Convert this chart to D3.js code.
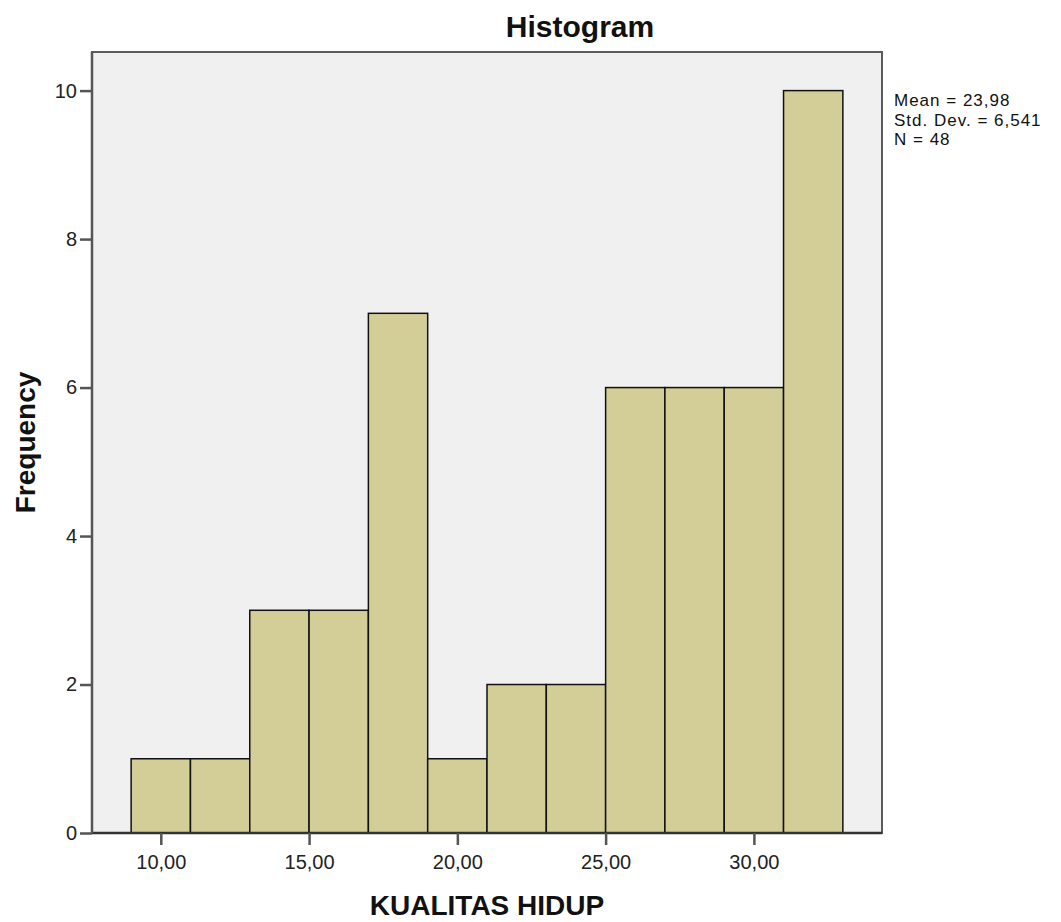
<!DOCTYPE html>
<html>
<head>
<meta charset="utf-8">
<script src="https://cdn.jsdelivr.net/npm/d3@7"></script>
<style>
  body { margin: 0; background: #fff; }
  text { font-family: "Liberation Sans", Arial, sans-serif; }
</style>
</head>
<body>
<div id="chart"></div>
<script>
// Histogram data (KUALITAS HIDUP)
const binLower = [9, 11, 13, 15, 17, 19, 21, 23, 25, 27, 29, 31];
const binUpper = [11, 13, 15, 17, 19, 21, 23, 25, 27, 29, 31, 33];
const counts = [1, 1, 3, 3, 7, 1, 2, 2, 6, 6, 6, 10];
const xTicks = [10, 15, 20, 25, 30];
const yTicks = [0, 2, 4, 6, 8, 10];
const statLines = ["Mean = 23,98", "Std. Dev. = 6,541", "N = 48"];

const width = 1061;
const height = 922;
const plot = { left: 92, top: 52, right: 882, bottom: 833 };

const locale = d3.formatLocale({ decimal: ",", thousands: ".", grouping: [3], currency: ["", ""] });
const fmt2 = locale.format(".2f");

const x = d3.scaleLinear().domain([7.68, 34.32]).range([plot.left, plot.right]);
const y = d3.scaleLinear().domain([0, 10.52]).range([plot.bottom, plot.top]);

const svg = d3.select("#chart")
    .append("svg")
    .attr("width", width)
    .attr("height", height);

// Plot background
svg.append("rect")
    .attr("x", plot.left)
    .attr("y", plot.top)
    .attr("width", plot.right - plot.left)
    .attr("height", plot.bottom - plot.top)
    .attr("fill", "#f0f0f0")
    .attr("stroke", "#5a5a5a")
    .attr("stroke-width", 2);

// Bars
svg.selectAll("rect.bar")
    .data(counts)
    .enter()
    .append("rect")
    .attr("class", "bar")
    .attr("x", (d, i) => x(binLower[i]))
    .attr("width", (d, i) => x(binUpper[i]) - x(binLower[i]))
    .attr("y", d => y(d))
    .attr("height", d => y(0) - y(d))
    .attr("fill", "#d3ce97")
    .attr("stroke", "#111")
    .attr("stroke-width", 1.5);

// X axis
const xAxis = svg.append("g")
    .attr("transform", `translate(0,${plot.bottom})`)
    .call(d3.axisBottom(x).tickValues(xTicks).tickFormat(fmt2).tickSize(12).tickPadding(10));
xAxis.select(".domain")
    .attr("d", `M${plot.left},0H${plot.right}`)
    .attr("stroke", "#333")
    .attr("stroke-width", 2.5);
xAxis.selectAll(".tick line").attr("stroke", "#555").attr("stroke-width", 2.5);
xAxis.selectAll(".tick text")
    .attr("font-family", "'Liberation Sans', Arial, sans-serif")
    .attr("font-size", 20)
    .attr("fill", "#222");

// Y axis
const yAxis = svg.append("g")
    .attr("transform", `translate(${plot.left},0)`)
    .call(d3.axisLeft(y).tickValues(yTicks).tickFormat(d3.format("d")).tickSize(12).tickPadding(3));
yAxis.select(".domain")
    .attr("d", `M0,${plot.top}V${plot.bottom}`)
    .attr("stroke", "#555")
    .attr("stroke-width", 2.5);
yAxis.selectAll(".tick line").attr("stroke", "#555").attr("stroke-width", 2.5);
yAxis.selectAll(".tick text")
    .attr("font-family", "'Liberation Sans', Arial, sans-serif")
    .attr("font-size", 20)
    .attr("fill", "#222");

// Title
svg.append("text")
    .attr("x", 580)
    .attr("y", 37)
    .attr("text-anchor", "middle")
    .style("font-size", "30px")
    .style("font-weight", "bold")
    .style("fill", "#111")
    .text("Histogram");

// Axis titles
svg.append("text")
    .attr("x", (plot.left + plot.right) / 2)
    .attr("y", 915)
    .attr("text-anchor", "middle")
    .style("font-size", "28px")
    .style("font-weight", "bold")
    .style("fill", "#111")
    .text("KUALITAS HIDUP");

svg.append("text")
    .attr("transform", `translate(35,${(plot.top + plot.bottom) / 2}) rotate(-90)`)
    .attr("text-anchor", "middle")
    .style("font-size", "28px")
    .style("font-weight", "bold")
    .style("fill", "#111")
    .text("Frequency");

// Statistics box
svg.selectAll("text.stat")
    .data(statLines)
    .enter()
    .append("text")
    .attr("class", "stat")
    .attr("x", 894)
    .attr("y", (d, i) => 106 + i * 19.5)
    .style("font-size", "17px")
    .style("letter-spacing", "1px")
    .style("fill", "#111")
    .text(d => d);
</script>
</body>
</html>
